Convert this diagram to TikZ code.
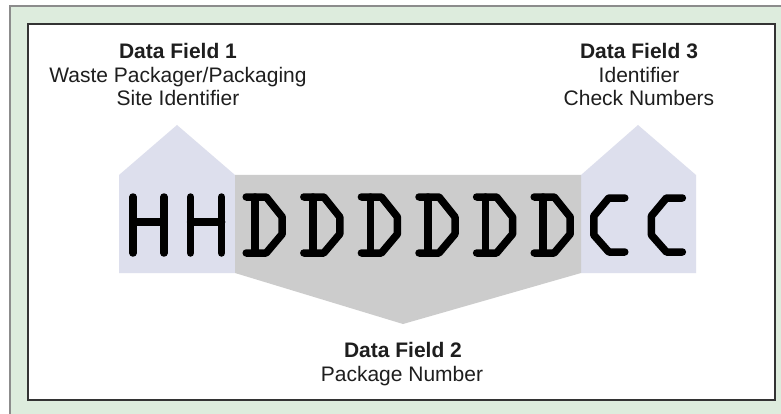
\documentclass[tikz,border=0pt]{standalone}
\usepackage{fontspec}
\setmainfont{Liberation Sans}
\definecolor{framegreen}{RGB}{221,236,221}
\definecolor{frameline}{RGB}{140,140,140}
\definecolor{lav}{RGB}{221,223,237}
\definecolor{chev}{RGB}{204,204,204}
\definecolor{txt}{RGB}{30,30,30}
\tikzset{
  lbl/.style={anchor=base, inner sep=0pt, text=txt, font=\fontsize{21}{24}\selectfont},
  lblb/.style={lbl, font=\fontsize{21}{24}\selectfont\bfseries},
  glyph/.style={line width=7.5pt, line cap=round, line join=round, draw=black}
}
\begin{document}
\begin{tikzpicture}[x=1pt,y=-1pt]
\useasboundingbox (0,0) rectangle (781,414);
% outer frame
\fill[framegreen] (10,6) rectangle (781,414);
\draw[frameline, line width=1.2pt] (10,414) -- (10,6) -- (781,6);
% inner box
\fill[white] (28,24) rectangle (775,400);
\draw[black!80, line width=1.4pt] (28,24) rectangle (775,400);
% shapes
\fill[lav] (119,273) -- (119,175) -- (177,125) -- (235,175) -- (235,273) -- cycle;
\fill[lav] (581,273) -- (581,175) -- (638,125) -- (696,175) -- (696,273) -- cycle;
\fill[chev] (235,175) -- (581,175) -- (581,273) -- (403,324) -- (235,273) -- cycle;
% glyphs
\foreach \i in {0,1} {
  \pgfmathsetmacro{\ox}{128+57.6*\i}
  \draw[glyph] (\ox+5,197) -- (\ox+5,253) (\ox+36,197) -- (\ox+36,253) (\ox+5,222) -- (\ox+36,222);
}
\foreach \i in {2,...,7} {
  \pgfmathsetmacro{\ox}{128+57.6*\i}
  \draw[glyph] (\ox+3,197) -- (\ox+23,197) -- (\ox+39,217) -- (\ox+39,234) -- (\ox+23,253) -- (\ox+3,253);
  \draw[glyph] (\ox+12,197) -- (\ox+12,253);
}
\foreach \i in {8,9} {
  \pgfmathsetmacro{\ox}{128+57.6*\i}
  \draw[glyph] (\ox+36,198) -- (\ox+20,198) -- (\ox+5,216) -- (\ox+5,235) -- (\ox+20,252) -- (\ox+36,252);
}
% labels
\node[lblb] (f1a) at (178,58.5) {Data Field 1};
\node[lbl] (f1b) at (178,82.3) {Waste Packager/Packaging};
\node[lbl] (f1c) at (178,106) {Site Identifier};
\node[lblb] (f3a) at (639,58.5) {Data Field 3};
\node[lbl] (f3b) at (639,82.3) {Identifier};
\node[lbl] (f3c) at (639,106) {Check Numbers};
\node[lblb] (f2a) at (403,357.5) {Data Field 2};
\node[lbl] (f2b) at (402,381.5) {Package Number};
\end{tikzpicture}
\end{document}
